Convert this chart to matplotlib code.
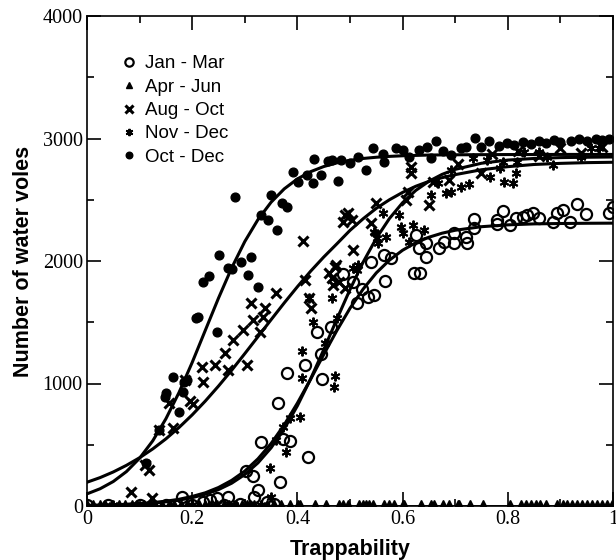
import matplotlib
matplotlib.use('Agg')

import matplotlib.pyplot as plt
from matplotlib.ticker import MultipleLocator

# ---- fitted curves ----
curve_x = [0.0, 0.025, 0.05, 0.075, 0.1, 0.125, 0.15, 0.175, 0.2, 0.225, 0.25, 0.275,
           0.3, 0.325, 0.35, 0.375, 0.4, 0.425, 0.45, 0.475, 0.5, 0.525, 0.55, 0.575,
           0.6, 0.625, 0.65, 0.675, 0.7, 0.75, 0.8, 0.85, 0.9, 0.95, 1.0]
fit_oct_dec = [99, 141, 200, 281, 390, 532, 712, 927, 1172, 1435, 1697, 1943,
               2159, 2338, 2480, 2589, 2670, 2729, 2771, 2801, 2822, 2837, 2847, 2854,
               2859, 2862, 2865, 2866, 2867, 2868, 2869, 2869, 2870, 2870, 2870]
fit_aug_oct = [194, 232, 278, 332, 394, 466, 548, 641, 744, 857, 979, 1108,
               1244, 1382, 1521, 1658, 1790, 1916, 2032, 2140, 2250, 2345, 2430, 2500,
               2560, 2610, 2650, 2680, 2705, 2745, 2770, 2788, 2797, 2803, 2806]
fit_nov_dec = [4, 6, 9, 12, 17, 24, 34, 48, 68, 96, 134, 186,
               257, 352, 475, 630, 818, 1036, 1276, 1525, 1767, 1991, 2185, 2347,
               2476, 2576, 2651, 2707, 2748, 2798, 2824, 2837, 2844, 2847, 2849]
fit_jan_mar = [5, 7, 10, 14, 20, 28, 39, 55, 78, 108, 151, 209,
               285, 385, 510, 663, 840, 1034, 1236, 1432, 1614, 1771, 1903, 2007,
               2088, 2149, 2194, 2227, 2251, 2280, 2295, 2303, 2306, 2308, 2309]

# ---- observations ----
jan_mar_x = [0.0, 0.04, 0.1, 0.15, 0.2, 0.26, 0.29, 0.355,
             0.18, 0.221, 0.234, 0.247, 0.268, 0.303, 0.316, 0.317, 0.325, 0.331, 0.342,
             0.364, 0.366, 0.373, 0.38, 0.385, 0.414, 0.421, 0.438, 0.445, 0.447, 0.463,
             0.487, 0.506, 0.513, 0.522, 0.535, 0.546, 0.54, 0.565, 0.566, 0.578, 0.622,
             0.634, 0.626, 0.632, 0.644, 0.644, 0.67, 0.679, 0.698, 0.698, 0.72, 0.722,
             0.736, 0.736, 0.779, 0.78, 0.791, 0.804, 0.815, 0.828, 0.837, 0.847, 0.859,
             0.886, 0.894, 0.905, 0.918, 0.931, 0.949, 0.992, 1.0]
jan_mar_y = [5, 5, 8, 10, 10, 12, 15, 20,
             76, 35, 49, 63, 76, 286, 248, 76, 131, 520, 35,
             838, 199, 547, 1083, 531, 1151, 400, 1418, 1238, 1037, 1464,
             1893, 1831, 1655, 1769, 1709, 1722, 1994, 2049, 1840, 2022, 1899,
             1905, 2212, 2103, 2144, 2035, 2103, 2157, 2226, 2144, 2198, 2144,
             2267, 2343, 2300, 2335, 2408, 2294, 2348, 2362, 2375, 2389, 2348,
             2321, 2389, 2416, 2316, 2463, 2381, 2389, 2443]

apr_jun_x = [0.0, 0.012, 0.025, 0.035, 0.048, 0.06, 0.072, 0.085, 0.095, 0.108, 0.12,
             0.13, 0.142, 0.155, 0.165, 0.178, 0.19, 0.2, 0.212, 0.225, 0.236, 0.248,
             0.26, 0.27, 0.283, 0.295, 0.305, 0.318, 0.33, 0.342, 0.355, 0.369, 0.385,
             0.401, 0.405, 0.433, 0.455, 0.48, 0.487, 0.497, 0.518, 0.524, 0.53, 0.537,
             0.543, 0.565, 0.575, 0.584, 0.6, 0.603, 0.635, 0.654, 0.66, 0.676, 0.689,
             0.705, 0.708, 0.729, 0.752, 0.804, 0.825, 0.834, 0.844, 0.853, 0.862, 0.872,
             0.894, 0.904, 0.913, 0.923, 0.932, 0.942, 0.951, 0.961, 0.97, 0.98, 0.989,
             0.999]
apr_jun_y = [25] * len(apr_jun_x)

aug_oct_x = [0.084, 0.110, 0.117, 0.123, 0.136, 0.155, 0.164, 0.186, 0.196, 0.202,
             0.219, 0.221, 0.243, 0.262, 0.269, 0.278, 0.297, 0.304, 0.312, 0.316,
             0.329, 0.335, 0.338, 0.36, 0.411, 0.414, 0.423, 0.426, 0.461, 0.465,
             0.468, 0.471, 0.474, 0.48, 0.487, 0.49, 0.49, 0.497, 0.503, 0.506,
             0.540, 0.549, 0.606, 0.611, 0.616, 0.616, 0.651, 0.657, 0.689, 0.705,
             0.749, 0.77, 0.82, 0.86, 0.9, 0.94, 0.98]
aug_oct_y = [117, 335, 294, 68, 620, 838, 639, 1029, 857, 830,
             1137, 1015, 1151, 1246, 1110, 1355, 1437, 1151, 1655, 1518,
             1423, 1545, 1614, 1736, 2166, 1845, 1695, 1614, 1899, 1859,
             1804, 1953, 1967, 1831, 2321, 1777, 2375, 2389, 2335, 2090,
             2308, 2471, 2498, 2566, 2770, 2716, 2457, 2647, 2661, 2789,
             2716, 2870, 2900, 2860, 2920, 2880, 2930]

nov_dec_x = [0.05, 0.12, 0.2, 0.28, 0.33, 0.31, 0.347, 0.35, 0.36, 0.373, 0.379,
             0.385, 0.404, 0.408, 0.409, 0.423, 0.43, 0.452, 0.465, 0.47, 0.471,
             0.476, 0.505, 0.513, 0.515, 0.546, 0.548, 0.551, 0.553, 0.562, 0.568,
             0.594, 0.597, 0.60, 0.613, 0.619, 0.641, 0.654, 0.667, 0.683, 0.692,
             0.692, 0.711, 0.727, 0.733, 0.761, 0.767, 0.785, 0.79, 0.793, 0.809,
             0.815, 0.818, 0.831, 0.859, 0.875, 0.885, 0.939, 0.958, 0.973]
nov_dec_y = [5, 8, 5, 10, 5, 8, 308, 76, 539, 647, 443,
             716, 729, 1042, 1265, 1695, 1499, 1330, 1695, 974, 1064,
             1532, 1940, 1927, 1967, 2239, 2226, 2185, 2144, 2389, 2198,
             2375, 2280, 2226, 2157, 2294, 2253, 2539, 2634, 2552, 2566,
             2743, 2607, 2626, 2838, 2824, 2688, 2757, 2811, 2647, 2634,
             2716, 2811, 2892, 2892, 2851, 2784, 2851, 2920, 2920]

oct_dec_x = [0.113, 0.136, 0.148, 0.151, 0.164, 0.175, 0.183, 0.185, 0.19, 0.208,
             0.211, 0.221, 0.231, 0.247, 0.25, 0.268, 0.276, 0.281, 0.293, 0.306,
             0.312, 0.326, 0.331, 0.344, 0.35, 0.362, 0.371, 0.381, 0.392, 0.401,
             0.419, 0.43, 0.432, 0.444, 0.458, 0.466, 0.478, 0.483, 0.50, 0.515,
             0.530, 0.543, 0.562, 0.565, 0.587, 0.60, 0.613, 0.632, 0.646, 0.654,
             0.664, 0.676, 0.692, 0.711, 0.72, 0.738, 0.749, 0.764, 0.783, 0.799,
             0.812, 0.828, 0.844, 0.859, 0.872, 0.888, 0.90, 0.92, 0.935, 0.951,
             0.967, 0.98, 0.992]
oct_dec_y = [348, 620, 890, 920, 1055, 765, 933, 1010, 1030, 1532,
             1545, 1826, 1880, 1423, 2049, 1940, 1935, 2525, 1994, 1886,
             2035, 1790, 2375, 2335, 2539, 2253, 2471, 2443, 2729, 2642,
             2702, 2634, 2833, 2702, 2816, 2822, 2653, 2822, 2797, 2851,
             2743, 2925, 2871, 2806, 2920, 2906, 2851, 2906, 2933, 2843,
             2980, 2898, 2865, 2920, 2933, 3001, 2933, 2980, 2941, 2961,
             2947, 2974, 2953, 2980, 2961, 2988, 2974, 2980, 2996, 2980,
             2996, 2988, 2996]

serif = 'Liberation Serif'
sans = 'Liberation Sans'

fig = plt.figure(figsize=(6.16, 5.6), dpi=100)
ax = fig.add_axes([87 / 616, 54 / 560, 526 / 616, 490 / 560])

# fits
for fy in (fit_oct_dec, fit_aug_oct, fit_nov_dec, fit_jan_mar):
    ax.plot(curve_x, fy, color='black', lw=2.2, zorder=3)
ax.plot([0, 1], [0, 0], color='black', lw=2, zorder=3)

# points
ax.plot(jan_mar_x, jan_mar_y, 'o', mfc='none', mec='black', ms=8, mew=1.6,
        ls='none', label='Jan - Mar', zorder=4)
ax.plot(apr_jun_x, apr_jun_y, '^', color='black', ms=5, ls='none',
        label='Apr - Jun', zorder=4)
ax.plot(aug_oct_x, aug_oct_y, 'x', color='black', ms=7, mew=2.2, ls='none',
        label='Aug - Oct', zorder=4)
ax.plot(nov_dec_x, nov_dec_y, marker=(6, 2, 0), color='black', ms=7, mew=1.4,
        ls='none', label='Nov - Dec', zorder=4)
ax.plot(oct_dec_x, oct_dec_y, 'o', color='black', ms=6.3, ls='none',
        label='Oct - Dec', zorder=4)

ax.set_xlim(0, 1)
ax.set_ylim(0, 4000)
ax.set_xticks([0, 0.2, 0.4, 0.6, 0.8, 1.0])
ax.set_xticklabels(['0', '0.2', '0.4', '0.6', '0.8', '1'])
ax.set_yticks([0, 1000, 2000, 3000, 4000])
ax.xaxis.set_minor_locator(MultipleLocator(0.1))
ax.yaxis.set_minor_locator(MultipleLocator(500))
ax.tick_params(which='both', direction='in', top=True, right=True, width=1.2)
ax.tick_params(which='major', length=10, pad=3)
ax.tick_params(which='minor', length=5)
for lab in ax.get_xticklabels() + ax.get_yticklabels():
    lab.set_fontfamily(serif)
    lab.set_fontsize(14.5)
for sp in ax.spines.values():
    sp.set_linewidth(1.2)

ax.set_xlabel('Trappability', fontfamily=sans, fontweight='bold', fontsize=15.5,
              labelpad=7)
ax.set_ylabel('Number of water voles', fontfamily=sans, fontweight='bold', fontsize=15.5,
              labelpad=6)

leg = ax.legend(loc='upper left', bbox_to_anchor=(0.052, 0.935), frameon=False,
                prop={'family': sans, 'size': 13.5}, handlelength=0.8,
                handletextpad=0.45, labelspacing=0.33, borderaxespad=0,
                markerscale=0.75)

fig.savefig('out.png', dpi=100)
